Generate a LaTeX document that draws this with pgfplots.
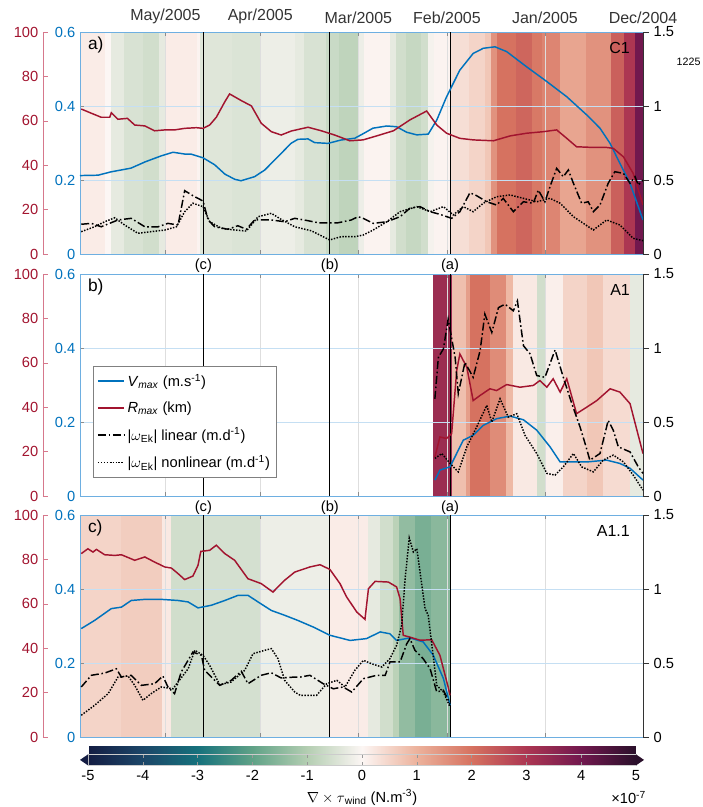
\documentclass[border=0pt]{standalone}
\usepackage{pgfplots}
\pgfplotsset{compat=1.18}
\usepackage{fontspec}
\setmainfont{Liberation Sans}

\definecolor{mblue}{RGB}{0,114,189}
\definecolor{mred}{RGB}{162,20,47}
\definecolor{boxblue}{RGB}{110,175,225}
\definecolor{redaxis}{RGB}{214,120,140}
\definecolor{cbleft}{RGB}{20,29,67}
\definecolor{cbright}{RGB}{42,16,43}

\newcommand\fs{\fontsize{11}{13}\selectfont}
\newcommand\fsm{\fontsize{12}{14}\selectfont}
\newcommand\fsp{\fontsize{13}{15}\selectfont}
\def\pxu{0.75pt}

\pgfplotsset{
  colormap={curl}{
    rgb255(0)=(20,29,67) rgb255(1)=(28,70,104) rgb255(2)=(22,113,124)
    rgb255(3)=(96,162,135) rgb255(4)=(180,206,178) rgb255(5)=(252,246,244)
    rgb255(6)=(236,178,156) rgb255(7)=(214,114,96) rgb255(8)=(172,54,82)
    rgb255(9)=(113,24,78) rgb255(10)=(42,16,43)
  },
  every axis/.append style={tick label style={font=\fs}, label style={font=\fs},
    /pgf/number format/assume math mode=true},
  panel/.style={scale only axis, width=422.25pt, height=166.5pt,
    xmin=0, xmax=178, x dir=reverse, clip=false, anchor=south west},
  bg/.style={panel, hide axis, ymin=0, ymax=1, colormap name=curl,
    point meta min=-5, point meta max=5},
  base/.style={panel, ymin=0, ymax=0.6, ytick={0,0.2,0.4,0.6},
    yticklabel style={text=mblue}, axis line style={draw=boxblue, line width=0.7pt},
    xtick={0,31,62,90,121,151}, xticklabels={},
    xmajorgrids, ymajorgrids, x grid style={black!13}, y grid style={boxblue!40},
    extra x ticks={61,99,139}, extra x tick labels={},
    extra x tick style={xmajorgrids=true, x grid style={black, line width=0.8pt}, major tick length=0pt},
    tick align=inside, major tick length=3pt, major tick style={black!45}, ytick pos=left},
  redax/.style={panel, axis x line=none, axis y line*=left, ymin=0, ymax=100,
    ytick={0,20,40,60,80,100}, yticklabel style={text=mred},
    y axis line style={draw=redaxis, line width=0.7pt}, major tick style={redaxis},
    tick align=inside, major tick length=4pt},
  reddata/.style={panel, hide axis, ymin=0, ymax=100},
  rightax/.style={panel, axis x line=none, axis y line*=right, ymin=0, ymax=1.5,
    ytick={0,0.5,1,1.5}, y axis line style={draw=black!80}, major tick style={black!80},
    tick align=outside, major tick length=4.5pt},
}
\tikzset{
  vcurve/.style={mblue, line width=1.1pt},
  rcurve/.style={mred, line width=1.1pt},
  lin/.style={black, line width=1.1pt, dash pattern=on 6pt off 2pt on 1.2pt off 2pt},
  nonlin/.style={black, line width=1.1pt, dash pattern=on 1.1pt off 1.1pt},
}

\begin{document}
\begin{tikzpicture}
\useasboundingbox (0,0) rectangle (703*\pxu,-807*\pxu);

%% ---------------- panel a) C1 ----------------
\begin{axis}[bg, at={(80*\pxu,-254*\pxu)}]
\addplot[surf, shader=flat corner, mesh/rows=2, point meta=explicit] coordinates {
(178,0)[0.15] (170,0)[0] (168,0)[-0.3] (164,0)[-0.5] (158,0)[-0.6] (153,0)[-0.3] (151,0)[0.15] (141,0)[0.05] (140,0)[-0.4] (130,0)[-0.45] (121,0)[-0.2] (110,0)[-0.3] (107,0)[-0.5] (100,0)[-0.7] (96,0)[-0.85] (90,0)[-0.2] (88,0)[0.05] (80,0)[-0.3] (78,0)[-0.6] (75,0)[-0.75] (70,0)[-0.6] (68,0)[-0.1] (66,0)[0.05] (61,0)[0.35] (55,0)[0.5] (50,0)[0.7] (48,0)[1.5] (46,0)[2.0] (40,0)[2.2] (35,0)[1.9] (32,0)[1.7] (26,0)[1.2] (18,0)[1.5] (10,0)[2.3] (6,0)[3.0] (2.5,0)[4.0] (0,0)[4.0]
(178,1)[0.15] (170,1)[0] (168,1)[-0.3] (164,1)[-0.5] (158,1)[-0.6] (153,1)[-0.3] (151,1)[0.15] (141,1)[0.05] (140,1)[-0.4] (130,1)[-0.45] (121,1)[-0.2] (110,1)[-0.3] (107,1)[-0.5] (100,1)[-0.7] (96,1)[-0.85] (90,1)[-0.2] (88,1)[0.05] (80,1)[-0.3] (78,1)[-0.6] (75,1)[-0.75] (70,1)[-0.6] (68,1)[-0.1] (66,1)[0.05] (61,1)[0.35] (55,1)[0.5] (50,1)[0.7] (48,1)[1.5] (46,1)[2.0] (40,1)[2.2] (35,1)[1.9] (32,1)[1.7] (26,1)[1.2] (18,1)[1.5] (10,1)[2.3] (6,1)[3.0] (2.5,1)[4.0] (0,1)[4.0]
};
\end{axis}
\begin{axis}[base, at={(80*\pxu,-254*\pxu)}, xticklabel pos=upper,
  xticklabels={Dec/2004,Jan/2005,Feb/2005,Mar/2005,Apr/2005,May/2005},
  xticklabel style={font=\fsm, text=black!80, yshift=2.5pt}]
\addplot[vcurve] coordinates {
(178,0.212)(172.3,0.213)(168.2,0.222)(161.9,0.232)(157.4,0.249)(152.4,0.265)(148.6,0.275)(144.8,0.270)(142.9,0.270)(139.1,0.260)(135.4,0.241)(132.2,0.216)(129.1,0.202)(127.1,0.198)(122.8,0.209)(119.6,0.227)(115.4,0.263)(111.3,0.299)(109.1,0.310)(105.9,0.311)(103.8,0.301)(99.6,0.299)(95.5,0.308)(91.1,0.313)(88.5,0.325)(85.4,0.340)(81.0,0.346)(77.9,0.344)(74.7,0.329)(71.5,0.322)(67.9,0.324)(65.2,0.362)(62.1,0.425)(57.9,0.497)(53.7,0.542)(50.5,0.556)(46.8,0.560)(43.1,0.547)(36.8,0.506)(30.4,0.466)(24.1,0.425)(17.8,0.376)(13.6,0.340)(10.4,0.299)(7.3,0.245)(4.1,0.191)(0,0.092)
};
\node[anchor=north west, font=\fsp] at (axis description cs:0.006,0.998) {a)};
\node[anchor=north east, font=\fsm] at (axis description cs:0.985,0.975) {C1};
\node[anchor=north, font=\fs] at (axis cs:139,0) {(c)};
\node[anchor=north, font=\fs] at (axis cs:99,0) {(b)};
\node[anchor=north, font=\fs] at (axis cs:61,0) {(a)};
\end{axis}
\begin{axis}[redax, at={(43*\pxu,-254*\pxu)}]
\end{axis}
\begin{axis}[reddata, at={(80*\pxu,-254*\pxu)}]
\addplot[rcurve] coordinates {
(177.6,65.3)(174.4,63.4)(171.3,61.6)(168.6,61.6)(168.1,63.6)(166.0,60.7)(163.0,61.1)(160.7,58.1)(157.5,57.7)(154.4,55.5)(151.2,55.9)(148.1,55.9)(144.9,56.6)(141.2,56.9)(139.1,56.6)(137.0,58.1)(134.9,61.6)(132.2,68.6)(130.7,72.1)(127.0,69.1)(123.8,66.7)(120.7,58.9)(117.5,55.1)(114.4,53.6)(111.2,55.4)(105.9,57.1)(101.7,55.5)(97.5,53.6)(92.7,51.0)(88.5,51.4)(84.2,53.2)(78.9,55.5)(73.7,60.4)(68.4,64.4)(65.2,58.1)(62.1,54.4)(57.9,52.1)(53.7,51.4)(47.3,51.0)(42.0,53.2)(36.8,54.4)(31.5,55.1)(27.3,55.9)(24.1,52.1)(21.0,48.3)(15.7,48.0)(11.5,48.0)(9.4,47.6)(6.2,43.8)(3.1,36.3)(0,22.1)
};
\end{axis}
\begin{axis}[rightax, at={(80*\pxu,-254*\pxu)}]
\addplot[lin] coordinates {
(177.6,0.201)(174.4,0.207)(171.3,0.184)(166.0,0.230)(161.8,0.241)(157.5,0.184)(153.3,0.184)(150.2,0.207)(147.0,0.196)(144.9,0.428)(142.3,0.394)(139.1,0.358)(137.5,0.230)(135.4,0.184)(131.2,0.167)(128.1,0.191)(125.4,0.167)(122.8,0.230)(117.5,0.230)(113.3,0.218)(110.1,0.241)(105.9,0.225)(102.7,0.211)(96.4,0.211)(92.2,0.230)(90.1,0.252)(88.5,0.241)(85.3,0.207)(81.0,0.218)(76.8,0.252)(73.7,0.309)(70.5,0.320)(67.3,0.286)(64.2,0.268)(60.5,0.241)(57.9,0.286)(54.7,0.414)(52.6,0.394)(49.4,0.353)(46.3,0.331)(44.2,0.376)(41.0,0.286)(37.8,0.353)(34.7,0.343)(33.1,0.432)(31.0,0.353)(29.4,0.455)(27.3,0.579)(25.2,0.522)(23.6,0.568)(22.0,0.478)(19.4,0.343)(17.3,0.353)(15.7,0.286)(13.6,0.331)(11.0,0.478)(8.9,0.556)(6.2,0.545)(4.1,0.478)(2.5,0.522)(1.5,0.466)(0,0.5)
};
\addplot[nonlin] coordinates {
(177.6,0.151)(173.4,0.184)(170.2,0.218)(167.0,0.245)(163.9,0.196)(159.7,0.140)(155.5,0.151)(151.2,0.162)(147.5,0.184)(144.9,0.286)(142.3,0.343)(139.1,0.320)(137.0,0.218)(133.3,0.174)(129.1,0.162)(125.4,0.155)(121.7,0.252)(117.5,0.275)(114.4,0.234)(110.1,0.184)(104.9,0.157)(99.1,0.095)(95.4,0.117)(91.1,0.117)(88.5,0.128)(85.3,0.162)(81.0,0.218)(76.8,0.286)(71.5,0.320)(67.3,0.286)(63.1,0.320)(60.0,0.264)(56.8,0.320)(53.7,0.286)(50.5,0.343)(46.3,0.387)(42.0,0.399)(37.8,0.376)(33.6,0.353)(29.4,0.376)(26.2,0.343)(22.0,0.252)(15.7,0.162)(11.5,0.230)(7.3,0.196)(3.1,0.106)(0,0.090)
};
\end{axis}

%% ---------------- panel b) A1 ----------------
\begin{axis}[bg, at={(80*\pxu,-496*\pxu)}]
\addplot[surf, shader=flat corner, mesh/rows=2, point meta=explicit] coordinates {
(66.4,0)[3.3] (60.4,0)[0.8] (56,0)[1.3] (54.7,0)[2.0] (48.4,0)[1.6] (43.1,0)[0.9] (41,0)[0.2] (33.5,0)[-0.6] (31,0)[0.1] (25.3,0)[0.5] (17.7,0)[0.7] (12.6,0)[0.4] (4.1,0)[-0.3] (0,0)[-0.3]
(66.4,1)[3.3] (60.4,1)[0.8] (56,1)[1.3] (54.7,1)[2.0] (48.4,1)[1.6] (43.1,1)[0.9] (41,1)[0.2] (33.5,1)[-0.6] (31,1)[0.1] (25.3,1)[0.5] (17.7,1)[0.7] (12.6,1)[0.4] (4.1,1)[-0.3] (0,1)[-0.3]
};
\end{axis}
\begin{axis}[base, at={(80*\pxu,-496*\pxu)},
  legend style={at={(0.023,0.081)}, anchor=south west, draw=black!50, fill=white,
    font=\fs, row sep=6pt, inner xsep=3pt, inner ysep=4pt},
  legend image post style={xscale=1.15},
  legend cell align=left]
\addplot[vcurve] coordinates {
(65.8,0.043)(64.2,0.070)(61.0,0.079)(58.9,0.115)(56.8,0.151)(53.7,0.164)(50.5,0.191)(46.3,0.209)(42.0,0.216)(37.8,0.206)(33.6,0.178)(29.4,0.133)(26.2,0.092)(23.1,0.092)(17.8,0.092)(11.5,0.097)(7.3,0.088)(4.1,0.075)(0,0.043)
};
\addlegendentry{\textit{V}\textsubscript{\textit{max}} (m.s\textsuperscript{-1})}
\addlegendimage{rcurve}
\addlegendentry{\textit{R}\textsubscript{\textit{max}} (km)}
\addlegendimage{lin}
\addlegendentry{|$\omega$\textsubscript{Ek}| linear (m.d\textsuperscript{-1})}
\addlegendimage{nonlin}
\addlegendentry{|$\omega$\textsubscript{Ek}| nonlinear (m.d\textsuperscript{-1})}
\node[anchor=north west, font=\fsp] at (axis description cs:0.006,0.998) {b)};
\node[anchor=north east, font=\fsm] at (axis description cs:0.985,0.975) {A1};
\node[anchor=north, font=\fs] at (axis cs:139,0) {(c)};
\node[anchor=north, font=\fs] at (axis cs:99,0) {(b)};
\node[anchor=north, font=\fs] at (axis cs:61,0) {(a)};
\end{axis}
\begin{axis}[redax, at={(43*\pxu,-496*\pxu)}]
\end{axis}
\begin{axis}[reddata, at={(80*\pxu,-496*\pxu)}]
\addplot[rcurve] coordinates {
(65.8,17.6)(64.2,26.6)(62.1,25.9)(60.5,28.1)(58.9,56.5)(57.9,64.0)(55.7,58.0)(53.7,43.0)(51.5,45.3)(48.4,48.3)(46.3,47.5)(43.1,50.2)(38.9,49.0)(34.7,49.8)(32.6,52.0)(30.4,49.0)(28.4,52.8)(26.2,46.8)(24.1,52.8)(21.0,37.1)(17.8,40.0)(14.6,43.0)(10.4,48.3)(7.3,46.8)(4.1,41.6)(0,19.1)
};
\end{axis}
\begin{axis}[rightax, at={(80*\pxu,-496*\pxu)}]
\addplot[lin] coordinates {
(65.8,0.657)(64.7,0.937)(63.1,0.994)(61.6,1.195)(59.4,0.937)(58.4,0.691)(56.3,0.903)(53.7,0.802)(51.5,0.982)(50.0,1.229)(47.8,1.105)(45.7,1.273)(43.6,1.296)(41.0,1.251)(39.7,1.318)(37.8,1.016)(35.7,0.960)(33.6,0.814)(31.0,0.802)(27.8,0.987)(25.2,0.802)(22.5,0.624)(19.9,0.466)(18.3,0.354)(16.8,0.242)(13.6,0.287)(11.0,0.511)(9.4,0.444)(7.8,0.332)(4.1,0.298)(1.5,0.197)(0,0.153)
};
\addplot[nonlin] coordinates {
(65.8,0.254)(63.6,0.287)(61.0,0.220)(58.4,0.163)(55.7,0.332)(52.6,0.466)(49.4,0.612)(47.8,0.500)(45.2,0.657)(42.6,0.533)(39.9,0.556)(37.3,0.410)(33.6,0.287)(30.4,0.153)(27.8,0.141)(25.2,0.197)(22.0,0.287)(19.4,0.197)(15.7,0.163)(12.6,0.242)(9.4,0.276)(6.2,0.231)(3.1,0.141)(0,0.040)
};
\end{axis}

%% ---------------- panel c) A1.1 ----------------
\begin{axis}[bg, at={(80*\pxu,-737*\pxu)}]
\addplot[surf, shader=flat corner, mesh/rows=2, point meta=explicit] coordinates {
(178,0)[0.5] (165,0)[0.6] (152,0)[0.2] (149,0)[-0.6] (140,0)[-0.55] (121,0)[-0.2] (99,0)[0.15] (87,0)[-0.3] (83,0)[-0.6] (79,0)[-0.9] (77,0)[-1.4] (72,0)[-1.7] (67,0)[-1.5] (61,0)[-1.5]
(178,1)[0.5] (165,1)[0.6] (152,1)[0.2] (149,1)[-0.6] (140,1)[-0.55] (121,1)[-0.2] (99,1)[0.15] (87,1)[-0.3] (83,1)[-0.6] (79,1)[-0.9] (77,1)[-1.4] (72,1)[-1.7] (67,1)[-1.5] (61,1)[-1.5]
};
\end{axis}
\begin{axis}[base, at={(80*\pxu,-737*\pxu)},
  colormap name=curl, point meta min=-5, point meta max=5,
  colorbar horizontal,
  colorbar style={at={(parent axis.south west)}, anchor=north west,
    xshift=6pt, yshift=-4.5pt, scale only axis, width=411pt, height=8.25pt,
    xtick={-5,-4,-3,-2,-1,0,1,2,3,4,5}, xticklabel pos=lower,
    tick align=inside, major tick length=2.5pt, major tick style={black!40},
    axis line style={draw=black!20}, clip=false,
    xlabel={$\nabla\times\tau$\textsubscript{wind} (N.m\textsuperscript{-3})},
    after end axis/.code={
      \fill[cbleft] (axis description cs:0,0) -- (axis description cs:0,1)
        -- ([xshift=-6pt]axis description cs:0,0.5) -- cycle;
      \fill[cbright] (axis description cs:1,0) -- (axis description cs:1,1)
        -- ([xshift=6pt]axis description cs:1,0.5) -- cycle;
      \node[anchor=east, font=\fs] at ([xshift=11pt,yshift=-24pt]axis description cs:1,0)
        {×10\textsuperscript{-7}};
    }}]
\addplot[vcurve] coordinates {
(177.6,0.293)(173.4,0.315)(168.1,0.347)(164.9,0.351)(161.8,0.369)(157.5,0.372)(152.3,0.372)(147.0,0.369)(143.8,0.365)(140.7,0.349)(136.5,0.356)(132.2,0.369)(128.0,0.383)(124.9,0.383)(121.7,0.365)(117.5,0.342)(113.3,0.329)(109.1,0.315)(104.2,0.297)(99.0,0.275)(92.6,0.261)(87.4,0.266)(83.1,0.284)(80.0,0.279)(77.9,0.261)(73.7,0.268)(69.5,0.257)(66.3,0.221)(63.1,0.158)(61.0,0.086)
};
\node[anchor=north west, font=\fsp] at (axis description cs:0.006,0.998) {c)};
\node[anchor=north east, font=\fsm] at (axis description cs:0.985,0.975) {A1.1};
\end{axis}
\begin{axis}[redax, at={(43*\pxu,-737*\pxu)}]
\end{axis}
\begin{axis}[reddata, at={(80*\pxu,-737*\pxu)}]
\addplot[rcurve] coordinates {
(177.6,82.6)(175.5,84.8)(173.9,83.3)(172.8,84.5)(170.2,82.1)(167.0,81.8)(164.9,82.1)(160.7,79.6)(157.5,81.1)(154.4,78.8)(151.2,76.6)(149.1,76.1)(147.0,73.6)(144.9,70.9)(142.3,72.5)(140.7,77.3)(139.8,83.6)(137.0,84.1)(134.9,86.4)(132.2,82.6)(129.1,79.6)(124.9,71.3)(120.7,69.1)(117.0,65.3)(113.3,70.6)(110.1,74.3)(105.3,76.6)(102.1,77.6)(99.0,75.5)(95.8,69.1)(93.7,63.1)(90.5,56.3)(87.9,53.0)(86.8,66.8)(84.7,70.1)(80.5,69.8)(77.9,67.6)(76.8,62.3)(75.8,45.8)(73.7,45.0)(70.5,43.6)(66.8,43.8)(64.2,36.8)(61.6,22.5)(61.0,18.8)
};
\end{axis}
\begin{axis}[rightax, at={(80*\pxu,-737*\pxu)}]
\addplot[lin] coordinates {
(177.6,0.338)(174.4,0.417)(170.2,0.432)(166.5,0.461)(164.9,0.405)(161.8,0.417)(158.6,0.349)(154.4,0.360)(151.8,0.412)(150.2,0.338)(148.1,0.293)(146.0,0.439)(142.3,0.574)(139.6,0.552)(138.6,0.451)(133.8,0.349)(130.2,0.383)(127.0,0.444)(124.9,0.360)(120.7,0.417)(117.5,0.434)(114.4,0.399)(110.1,0.405)(108.4,0.405)(105.3,0.417)(101.1,0.360)(97.9,0.326)(94.8,0.338)(92.1,0.304)(88.4,0.394)(84.2,0.417)(81.5,0.417)(80.0,0.507)(76.8,0.507)(74.7,0.630)(73.7,0.664)(72.1,0.586)(69.5,0.529)(67.3,0.461)(65.2,0.304)(63.1,0.316)(61.0,0.225)
};
\addplot[nonlin] coordinates {
(177.6,0.147)(173.4,0.214)(169.1,0.293)(166.0,0.405)(162.8,0.412)(160.7,0.349)(158.1,0.248)(155.5,0.293)(152.3,0.338)(148.6,0.326)(147.0,0.372)(143.8,0.461)(141.7,0.586)(139.1,0.552)(137.0,0.484)(133.8,0.353)(130.2,0.372)(125.9,0.451)(123.3,0.563)(119.6,0.586)(117.5,0.597)(115.4,0.529)(113.3,0.383)(110.1,0.304)(108.4,0.282)(103.2,0.282)(100.0,0.360)(96.8,0.383)(94.2,0.338)(91.1,0.451)(88.4,0.518)(85.8,0.495)(82.6,0.473)(80.0,0.529)(77.9,0.620)(76.3,0.755)(75.2,1.070)(73.9,1.345)(72.6,1.250)(71.5,1.272)(68.9,0.867)(67.9,0.822)(65.2,0.349)(63.1,0.304)(61.0,0.203)
};
\end{axis}

\node[anchor=west, font=\fontsize{8}{9}\selectfont] at (672*\pxu,-62*\pxu) {1225};
\end{tikzpicture}
\end{document}
